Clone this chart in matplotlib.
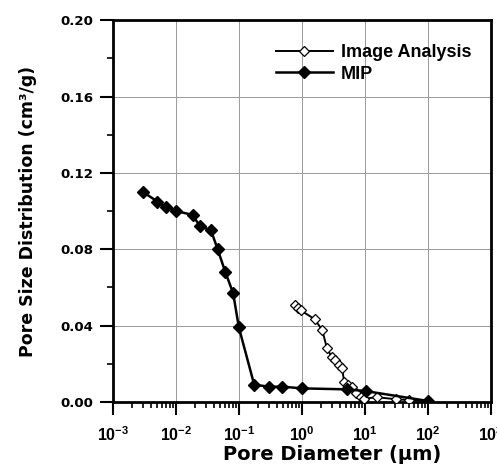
import matplotlib
matplotlib.use("Agg")
import matplotlib.pyplot as plt
from matplotlib.ticker import FixedLocator, LogLocator, NullFormatter
import numpy as np

plt.rcParams['font.family'] = ['DejaVu Sans']
plt.rcParams['mathtext.fontset'] = 'custom'
plt.rcParams['mathtext.rm'] = 'Liberation Sans:bold'
plt.rcParams['mathtext.bf'] = 'Liberation Sans:bold'
plt.rcParams['mathtext.it'] = 'Liberation Sans:bold'
plt.rcParams['mathtext.sf'] = 'Liberation Sans:bold'

# Data
mip_d = [0.003, 0.0051, 0.007, 0.01, 0.0185, 0.024, 0.036, 0.046, 0.061, 0.081, 0.10,
         0.175, 0.30, 0.49, 1.0, 5.1, 10.2, 100]
mip_v = [0.110, 0.105, 0.102, 0.100, 0.098, 0.092, 0.090, 0.080, 0.068, 0.057, 0.039,
         0.009, 0.008, 0.008, 0.0071, 0.0066, 0.0057, 0.0005]

ia_d = [0.77, 0.86, 0.95, 1.59, 2.1, 2.5, 2.95, 3.3, 3.84, 4.3, 4.7, 5.3, 6.2, 7.3,
        8.7, 9.5, 15.4, 31, 50, 100]
ia_v = [0.0507, 0.049, 0.048, 0.0434, 0.0376, 0.028, 0.0237, 0.022, 0.0193, 0.018,
        0.0103, 0.0089, 0.008, 0.0045, 0.0028, 0.0016, 0.0025, 0.0014, 0.001, 0.0005]

xticks = [1e-3, 1e-2, 1e-1, 1e0, 1e1, 1e2, 1e3]
xtick_labels = [r'$\mathbf{10^{-3}}$', r'$\mathbf{10^{-2}}$', r'$\mathbf{10^{-1}}$',
                r'$\mathbf{10^{0}}$', r'$\mathbf{10^{1}}$', r'$\mathbf{10^{2}}$',
                r'$\mathbf{10^{3}}$']
yticks = [0.00, 0.04, 0.08, 0.12, 0.16, 0.20]
ytick_labels = ['0.00', '0.04', '0.08', '0.12', '0.16', '0.20']

fig = plt.figure(figsize=(4.97, 4.69), dpi=100)
ax = fig.add_axes([0.227, 0.143, 0.761, 0.814])

ax.plot(ia_d, ia_v, color='black', lw=1.4, marker='D', markersize=5,
        markerfacecolor='white', markeredgecolor='black', markeredgewidth=0.9,
        label='Image Analysis', zorder=3)
ax.plot(mip_d, mip_v, color='black', lw=1.8, marker='D', markersize=6,
        markerfacecolor='black', markeredgecolor='black', label='MIP', zorder=4)

ax.set_xscale('log')
ax.set_xlim(1e-3, 1e3)
ax.set_ylim(0, 0.20)

ax.set_xticks(xticks)
ax.set_xticklabels(xtick_labels, fontsize=11.5)
ax.xaxis.set_minor_locator(LogLocator(base=10, subs=np.arange(2, 10), numticks=20))
ax.xaxis.set_minor_formatter(NullFormatter())
ax.set_yticks(yticks)
ax.set_yticklabels(ytick_labels, fontsize=9.6, fontweight='bold')
ax.yaxis.set_minor_locator(FixedLocator([0.02, 0.06, 0.10, 0.14, 0.18]))

ax.tick_params(axis='both', which='major', direction='out', length=9.5, width=1.5)
ax.tick_params(axis='y', which='major', pad=4.5)
ax.tick_params(axis='x', which='major', pad=7)
ax.tick_params(axis='both', which='minor', direction='out', length=4.5, width=1.2)

ax.grid(True, which='major', color='#999999', lw=0.7)

for sp in ax.spines.values():
    sp.set_linewidth(2)

ax.set_xlabel('Pore Diameter (μm)', fontsize=14, fontweight='bold')
ax.xaxis.set_label_coords(0.58, -0.112)
ax.set_ylabel('Pore Size Distribution (cm³/g)', fontsize=12.5, fontweight='bold')
ax.yaxis.set_label_coords(-0.20, 0.5)

leg = ax.legend(loc='upper right', bbox_to_anchor=(0.99, 0.98), frameon=False,
                prop={'family': 'Liberation Sans', 'size': 13, 'weight': 'bold'},
                handlelength=3.2, handletextpad=0.4, labelspacing=0.25)

fig.savefig('out.png', dpi=100)
